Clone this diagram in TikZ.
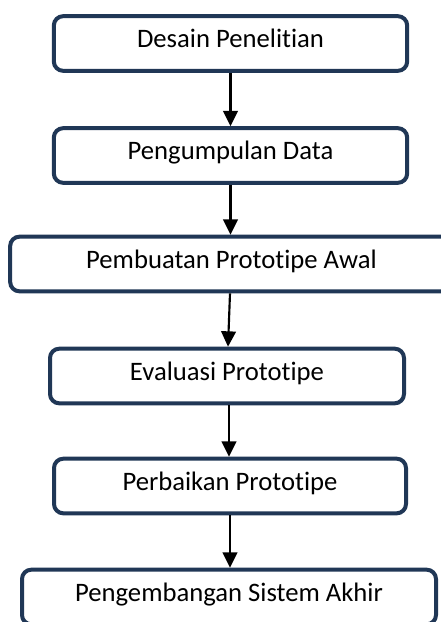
\documentclass[tikz,border=0pt]{standalone}
\usepackage{fontspec}
\setmainfont{Carlito}[Ligatures=NoCommon]
\usetikzlibrary{arrows.meta}
\definecolor{boxblue}{RGB}{32,55,86}

\tikzset{
  stage/.style={draw=boxblue, line width=3pt, rounded corners=7pt, fill=white,
    minimum height=41pt, inner sep=0pt, text height=12pt, text depth=5.5pt,
    font=\fontsize{20}{24}\selectfont},
  flow/.style={-{Triangle[length=11.5pt,width=11pt]}, line width=1.6pt}
}

\begin{document}
\begin{tikzpicture}[x=0.75pt,y=-0.75pt]
\useasboundingbox (0,0) rectangle (441,622);
\node[stage, minimum width=265pt] (desain) at (230.5,43.5) {Desain Penelitian};
\node[stage, minimum width=265pt] (kumpul) at (230.5,155.5) {Pengumpulan Data};
\node[stage, minimum width=332pt] (awal) at (231.5,264) {Pembuatan Prototipe Awal};
\node[stage, minimum width=265.5pt] (evaluasi) at (227,376) {Evaluasi Prototipe};
\node[stage, minimum width=264pt] (perbaikan) at (230,486) {Perbaikan Prototipe};
\node[stage, minimum width=310.5pt] (akhir) at (229,597) {Pengembangan Sistem Akhir};
\draw[flow] (desain) -- (kumpul);
\draw[flow] (kumpul) -- (kumpul |- awal.north);
\draw[flow] (awal.south -| 230,0) -- (evaluasi.north -| 228,0);
\draw[flow] (evaluasi.south -| 229,0) -- (perbaikan.north -| 229,0);
\draw[flow] (perbaikan) -- (perbaikan |- akhir.north);
\end{tikzpicture}
\end{document}
